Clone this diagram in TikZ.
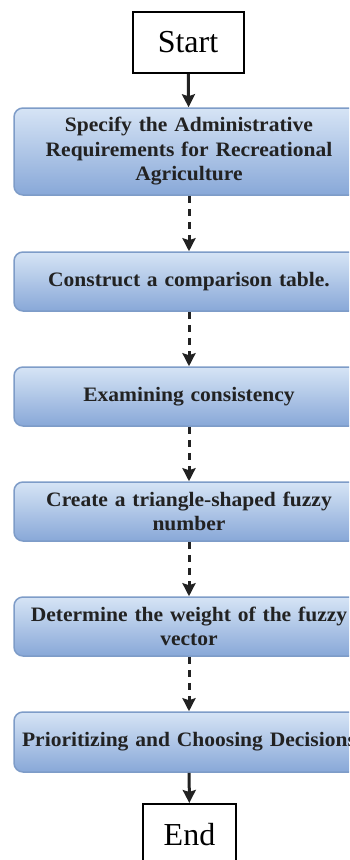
\documentclass[tikz,border=0pt]{standalone}
\usepackage{fontspec}
\setmainfont{Liberation Serif}
\newfontfamily\boxfont[FakeStretch=1.05]{Liberation Serif}
\usetikzlibrary{arrows.meta}

\definecolor{boxtop}{HTML}{D6E4F5}
\definecolor{boxbottom}{HTML}{88A8D8}
\definecolor{boxline}{HTML}{7E9CC8}
\definecolor{ink}{HTML}{222222}

\tikzset{
  stepbox/.style={draw=boxline, line width=1.5pt, rounded corners=9pt,
    top color=boxtop, bottom color=boxbottom, minimum width=350pt,
    text width=340pt, align=center, text=ink,
    font=\boxfont\fontsize{20.5}{24.5}\selectfont\bfseries},
  endbox/.style={draw=black, line width=2pt, fill=white,
    font=\fontsize{32}{36}\selectfont},
  flow/.style={-{Stealth[length=13pt,width=13pt,inset=2pt]}, line width=3pt, draw=ink},
  dflow/.style={flow, dash pattern=on 7pt off 6pt}
}

\begin{document}
\begin{tikzpicture}[x=1pt,y=-1pt]
\clip (0,0) rectangle (349,860);

\node[endbox, minimum width=111pt, minimum height=61pt] (start) at (188,42.5) {Start};

\node[stepbox, minimum height=87pt] (req) at (189,151.5)
  {Specify the Administrative\\Requirements for Recreational\\Agriculture};
\node[stepbox, minimum height=59pt] (table) at (189,281.5) {Construct a comparison table.};
\node[stepbox, minimum height=59pt] (cons) at (189,396.5) {Examining consistency};
\node[stepbox, minimum height=59pt] (fuzzy) at (189,511.5) {Create a triangle-shaped fuzzy\\number};
\node[stepbox, minimum height=59pt] (weight) at (189,626.5) {Determine the weight of the fuzzy\\vector};
\node[stepbox, minimum height=60pt] (prio) at (189,742) {Prioritizing and Choosing Decisions};

\node[endbox, minimum width=93pt, minimum height=61pt] (end) at (189.5,834.5) {End};

\draw[flow] (start) -- (req);
\draw[dflow] (req) -- (table);
\draw[dflow] (table) -- (cons);
\draw[dflow] (cons) -- (fuzzy);
\draw[dflow] (fuzzy) -- (weight);
\draw[dflow] (weight) -- (prio);
\draw[flow] (prio) -- (end);

\end{tikzpicture}
\end{document}
